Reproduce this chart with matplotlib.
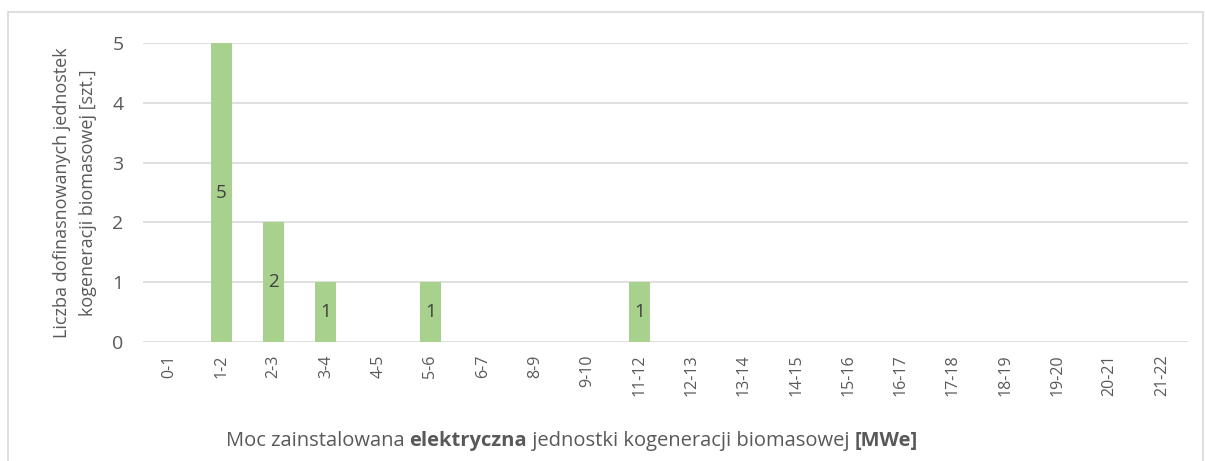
import matplotlib
matplotlib.use("Agg")
import matplotlib.pyplot as plt
from matplotlib.patches import Rectangle

# data
categories = ['0-1', '1-2', '2-3', '3-4', '4-5', '5-6', '6-7', '8-9', '9-10', '11-12',
              '12-13', '13-14', '14-15', '15-16', '16-17', '17-18', '18-19', '19-20',
              '20-21', '21-22']
counts = [0, 5, 2, 1, 0, 1, 0, 0, 0, 1, 0, 0, 0, 0, 0, 0, 0, 0, 0, 0]
y_ticks = [0, 1, 2, 3, 4, 5]

plt.rcParams['font.family'] = ['Open Sans', 'DejaVu Sans']

fig = plt.figure(figsize=(12.05, 4.61), dpi=100)
ax = fig.add_axes([0.1187, 0.258, 0.8673, 0.6487])

# outer chart border
fig.patches.append(Rectangle((8 / 1205, -0.05), 1195 / 1205, 1.05 - 12 / 461,
                             transform=fig.transFigure, fill=False,
                             edgecolor='#D9D9D9', linewidth=1.2))

x = list(range(len(categories)))
bars = ax.bar(x, counts, width=0.4, color='#A9D18E', zorder=3)

# labels in the middle of the bars
for xi, c in zip(x, counts):
    if c > 0:
        ax.text(xi, c / 2, str(c), ha='center', va='center',
                fontsize=13.5, color='#404040', zorder=4)

ax.set_xlim(-0.5, len(categories) - 0.5)
ax.set_ylim(0, 5)
ax.set_yticks(y_ticks)
ax.set_xticks(x)
ax.set_xticklabels(categories, rotation=90, fontsize=11.5, color='#595959')
ax.tick_params(axis='y', labelsize=14, colors='#595959', length=0, pad=14)
ax.tick_params(axis='x', length=0, pad=9)
ax.yaxis.grid(True, color='#D9D9D9', linewidth=1.2, zorder=0)
for s in ax.spines.values():
    s.set_visible(False)

ax.set_ylabel('Liczba dofinasnowanych jednostek\nkogeneracji biomasowej [szt.]',
              fontsize=13, color='#595959', labelpad=11, linespacing=1.6)

# x axis title with bold parts
parts = [('Moc zainstalowana ', 'normal'), ('elektryczna', 'bold'),
         (' jednostki kogeneracji biomasowej ', 'normal'), ('[MWe]', 'bold')]
fig.canvas.draw()
r = fig.canvas.get_renderer()
texts = []
for s, w in parts:
    t = fig.text(0, 1 - 441 / 461, s, fontsize=14.5, fontweight=w,
                 color='#595959', va='center', ha='left')
    texts.append(t)
widths = [t.get_window_extent(r).width for t in texts]
total = sum(widths)
xpos = 572 - total / 2
for t, wd in zip(texts, widths):
    t.set_x(xpos / 1205)
    xpos += wd

fig.savefig('out.png', dpi=100)
